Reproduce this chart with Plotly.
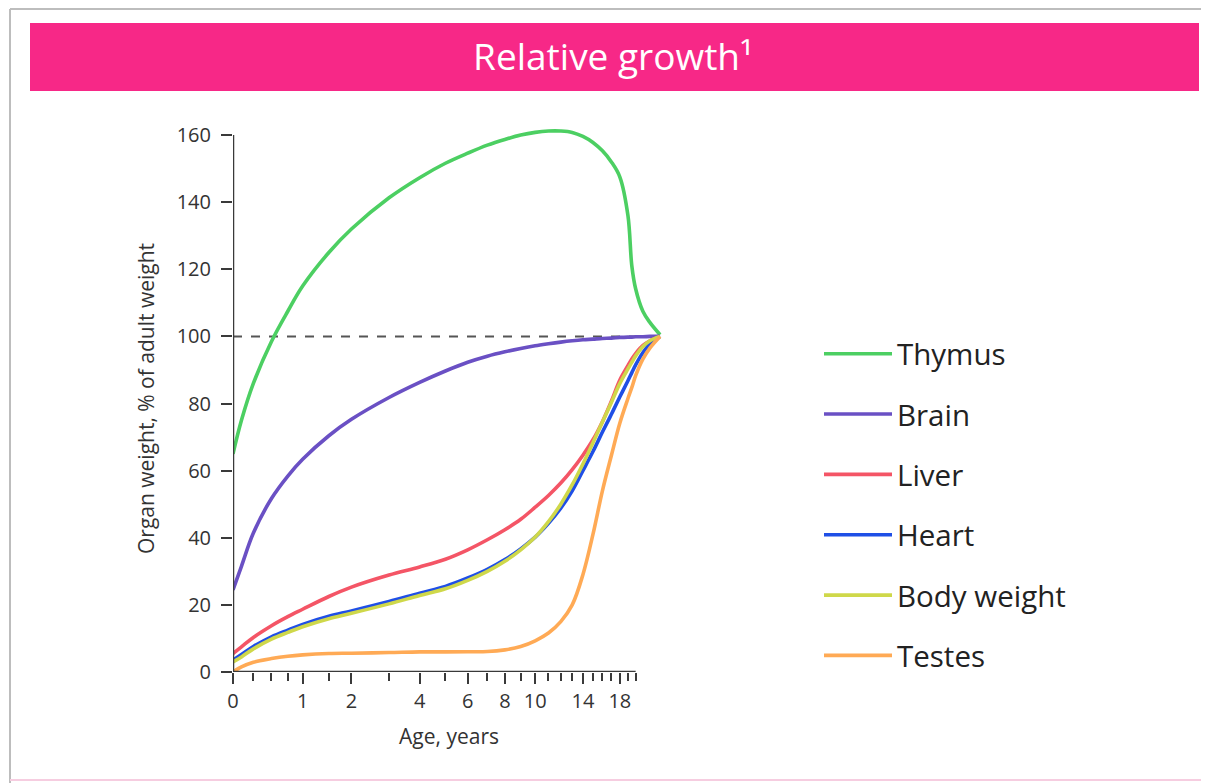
import numpy as np
import plotly.graph_objects as go

# ---------------- data ----------------
AGES = [0, 0.1, 0.25, 0.5, 0.75, 1, 1.5, 2, 3, 4, 5, 6, 7, 8, 9, 10, 11, 12,
        13, 14, 15, 16, 17, 18, 19, 19.5, 20, 21, 22, 23.5]

THYMUS = [65, 75, 86, 98.5, 107.5, 115, 125, 132, 141.3, 147.3, 151.6, 154.6,
          157, 158.7, 160, 160.8, 161.2, 161.2, 160.8, 159.6, 157.8, 155.3,
          152, 147.5, 136, 121, 114.2, 107.4, 104.1, 100.5]
BRAIN = [24.5, 31.5, 41.4, 51.7, 58.4, 63.4, 70.4, 75.3, 81.8, 86.3, 89.7,
         92.3, 94.1, 95.4, 96.4, 97.2, 97.8, 98.3, 98.7, 99, 99.2, 99.4, 99.5,
         99.7, 99.8, 99.8, 99.9, 99.9, 100, 100]
LIVER = [5.5, 7.5, 10.3, 13.8, 16.5, 18.7, 22.5, 25.3, 28.9, 31.3, 33.6, 36.4,
         39.4, 42.4, 45.5, 49.1, 52.6, 56.3, 60.3, 64.6, 69.2, 74.6, 80.7, 87,
         91.3, 93.3, 94.9, 97.3, 98.7, 100]
HEART = [3.5, 5.2, 7.6, 10.5, 12.5, 14.2, 16.6, 18.2, 21, 23.5, 25.5, 28,
         30.6, 33.5, 36.7, 40.2, 44.3, 48.8, 54, 60, 65.7, 71.5, 76.8, 82,
         86.8, 89.2, 91.5, 95.2, 97.8, 100]
BODY_WEIGHT = [3, 4.5, 6.9, 9.8, 11.8, 13.5, 15.9, 17.5, 20.3, 22.8, 24.8,
               27.3, 30, 33, 36.4, 40.2, 44.8, 50, 55.8, 62, 68.3, 74.5, 80.3,
               86, 90.3, 92.3, 94.2, 97, 98.7, 100]
TESTES = [0, 1.5, 2.9, 4, 4.7, 5.1, 5.5, 5.6, 5.8, 6, 6, 6.05, 6.1, 6.6, 7.6,
          9.3, 11.6, 15, 20, 29, 41, 54, 64.5, 74.2, 81.5, 84.8, 88.3, 93.3,
          96.6, 100]

SERIES_NAMES = ["Thymus", "Brain", "Liver", "Heart", "Body weight", "Testes"]
SERIES_VALUES = [THYMUS, BRAIN, LIVER, HEART, BODY_WEIGHT, TESTES]
SERIES_COLORS = ["#4ccf62", "#6a50c4", "#f45566", "#1f4fe6", "#cfd84a", "#ffaa55"]

MAJOR_TICKS = [0, 1, 2, 4, 6, 8, 10, 14, 18]
MINOR_TICKS = [0.25, 0.5, 0.75, 1.5, 3, 5, 7, 9, 11, 12, 13, 15, 16, 17, 19, 20]
Y_TICKS = [0, 20, 40, 60, 80, 100, 120, 140, 160]
REFERENCE_LEVEL = 100
AXIS_END_AGE = 20

TITLE = "Relative growth¹"
X_TITLE = "Age, years"
Y_TITLE = "Organ weight, % of adult weight"

# ---------------- age axis transform (compressed, log-like) ----------------
C = 1.9


def age_scale(a):
    return np.log(np.asarray(a, dtype=float) + C) - np.log(C)


FONT = "Open Sans"
AXIS_COLOR = "#3a3a3a"
TEXT_COLOR = "#333333"

# page is drawn with an 8px body margin; layout below uses page pixels
OFF = 8
W, H = 1201, 775
ml, mr, mt, mb = 225, 544, 117, 111
pw, ph = W - ml - mr, H - mt - mb


def px(xpage):
    return (xpage - OFF - ml) / pw


def py(ypage):
    return (H - mb - (ypage - OFF)) / ph


fig = go.Figure()
for i, (name, vals, col) in enumerate(zip(SERIES_NAMES, SERIES_VALUES, SERIES_COLORS)):
    fig.add_trace(go.Scatter(
        x=age_scale(AGES), y=vals, name=name, mode="lines",
        line=dict(color=col, width=3.6, shape="spline", smoothing=1.0),
        legendgroup=f"g{i}",
        hoverinfo="skip",
    ))

x_max = float(age_scale(AGES[-1])) + 0.03

shapes = [
    # outer frame
    dict(type="line", xref="paper", yref="paper", x0=px(10), x1=px(1215),
         y0=py(9), y1=py(9), line=dict(color="#bdbdbd", width=2)),
    dict(type="line", xref="paper", yref="paper", x0=px(10), x1=px(10),
         y0=py(9), y1=py(790), line=dict(color="#bdbdbd", width=2)),
    dict(type="line", xref="paper", yref="paper", x0=px(10), x1=px(1215),
         y0=py(780), y1=py(780), line=dict(color="#f6cde0", width=2)),
    # pink title banner
    dict(type="rect", xref="paper", yref="paper", layer="below",
         x0=px(30), x1=px(1199), y0=py(91), y1=py(23),
         fillcolor="#f72887", line=dict(width=0)),
    # axis lines
    dict(type="line", xref="x", yref="y", x0=0, x1=float(age_scale(AXIS_END_AGE)),
         y0=0, y1=0, line=dict(color=AXIS_COLOR, width=2.5)),
    dict(type="line", xref="x", yref="y", x0=0, x1=0, y0=0, y1=Y_TICKS[-1],
         line=dict(color=AXIS_COLOR, width=2.5)),
    # dashed 100 % reference
    dict(type="line", xref="x", yref="y", x0=0, x1=float(age_scale(AGES[-1])),
         y0=REFERENCE_LEVEL, y1=REFERENCE_LEVEL, layer="below",
         line=dict(color="#555555", width=2, dash="dash")),
]

fig.update_layout(
    width=W, height=H,
    margin=dict(l=ml, r=mr, t=mt, b=mb),
    paper_bgcolor="white", plot_bgcolor="white",
    font=dict(family=FONT, color=TEXT_COLOR),
    title=dict(text=TITLE, x=(613 - OFF) / W, xanchor="center",
               y=1 - (57 - OFF) / H, yanchor="middle",
               font=dict(family=FONT, size=37, color="white")),
    shapes=shapes,
    showlegend=True,
    legend=dict(
        x=px(819), xanchor="left",
        y=py(328), yanchor="top",
        font=dict(family=FONT, size=29.5, color="#222222"),
        traceorder="grouped", tracegroupgap=19,
        itemwidth=68, bgcolor="rgba(0,0,0,0)",
    ),
    xaxis=dict(
        range=[0, x_max], showgrid=False, zeroline=False, showline=False,
        tickmode="array", tickvals=age_scale(MAJOR_TICKS).tolist(),
        ticktext=[str(t) for t in MAJOR_TICKS],
        ticks="outside", ticklen=11, tickwidth=2, tickcolor=AXIS_COLOR,
        tickfont=dict(family=FONT, size=20, color=TEXT_COLOR),
        minor=dict(tickmode="array", tickvals=age_scale(MINOR_TICKS).tolist(),
                   ticks="outside", ticklen=8, tickwidth=2, tickcolor=AXIS_COLOR,
                   showgrid=False),
        title=dict(text=X_TITLE, font=dict(family=FONT, size=21, color=TEXT_COLOR), standoff=16),
    ),
    yaxis=dict(
        range=[0, 163], showgrid=False, zeroline=False, showline=False,
        tickmode="array", tickvals=Y_TICKS,
        ticks="outside", ticklen=11, tickwidth=2, tickcolor=AXIS_COLOR,
        tickfont=dict(family=FONT, size=20, color=TEXT_COLOR),
        ticklabelstandoff=6,
        title=dict(text=Y_TITLE, font=dict(family=FONT, size=21, color=TEXT_COLOR), standoff=16),
    ),
)

fig.write_html("out.html")
